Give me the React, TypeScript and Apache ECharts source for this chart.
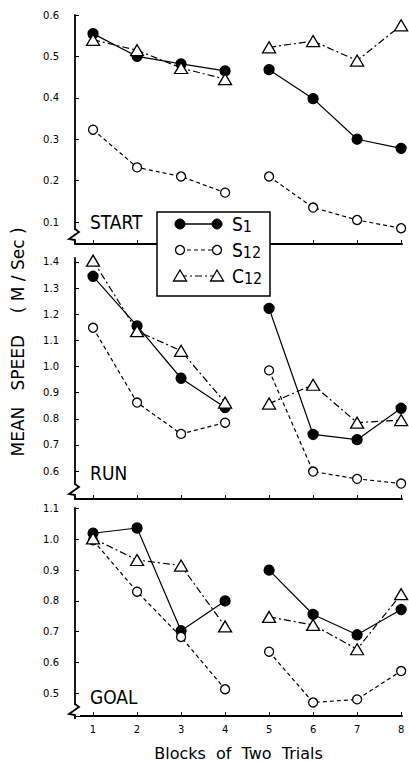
import React, { useEffect, useRef } from "react";
import * as echarts from "echarts";

const blocks = [1, 2, 3, 4, 5, 6, 7, 8];

const startS1 = [0.555, 0.5, 0.482, 0.465, 0.468, 0.398, 0.3, 0.278];
const startS12 = [0.323, 0.232, 0.21, 0.171, 0.21, 0.135, 0.105, 0.085];
const startC12 = [0.54, 0.515, 0.472, 0.445, 0.522, 0.537, 0.49, 0.575];

const runS1 = [1.345, 1.155, 0.955, 0.843, 1.222, 0.74, 0.72, 0.84];
const runS12 = [1.148, 0.862, 0.742, 0.785, 0.985, 0.598, 0.57, 0.552];
const runC12 = [1.405, 1.135, 1.06, 0.862, 0.858, 0.93, 0.785, 0.795];

const goalS1 = [1.02, 1.037, 0.703, 0.8, 0.9, 0.756, 0.69, 0.772];
const goalS12 = [0.997, 0.83, 0.683, 0.513, 0.635, 0.47, 0.48, 0.572];
const goalC12 = [1.003, 0.933, 0.915, 0.717, 0.748, 0.722, 0.643, 0.822];

const startTicks = [0.1, 0.2, 0.3, 0.4, 0.5, 0.6];
const runTicks = [0.6, 0.7, 0.8, 0.9, 1.0, 1.1, 1.2, 1.3, 1.4];
const goalTicks = [0.5, 0.6, 0.7, 0.8, 0.9, 1.0, 1.1];

const panelNames = ["START", "RUN", "GOAL"];
const xTitle = "Blocks  of  Two  Trials";
const yTitle = "MEAN   SPEED    ( M / Sec )";

const panels = [
  { name: "START", s1: startS1, s12: startS12, c12: startC12, ticks: startTicks, min: 0.047, max: 0.6, top: 15, height: 229 },
  { name: "RUN", s1: runS1, s12: runS12, c12: runC12, ticks: runTicks, min: 0.493, max: 1.415, top: 258, height: 241 },
  { name: "GOAL", s1: goalS1, s12: goalS12, c12: goalC12, ticks: goalTicks, min: 0.426, max: 1.102, top: 508, height: 211 },
];

const groups = [
  { key: "s1", lineType: "solid" as any, symbol: "circle", size: 10 as any, fill: "#000" },
  { key: "s12", lineType: [4, 3] as any, symbol: "circle", size: 9 as any, fill: "#fff" },
  { key: "c12", lineType: [7, 3, 2, 3] as any, symbol: "triangle", size: [13, 11] as any, fill: "#fff" },
];

const FONT = "'DejaVu Sans', 'Liberation Sans', sans-serif";
const CFONT = "'DejaVu Sans Condensed', 'Liberation Sans Narrow', 'DejaVu Sans', sans-serif";

export default function App() {
  const ref = useRef<HTMLDivElement>(null);
  useEffect(() => {
    if (!ref.current) return;
    const chart = echarts.init(ref.current, null, { renderer: "svg" });

    const grids: any[] = [];
    const xAxes: any[] = [];
    const yAxes: any[] = [];
    const series: any[] = [];
    const graphics: any[] = [];

    panels.forEach((p, pi) => {
      const isLast = pi === panels.length - 1;
      grids.push({ left: 75, right: 7, top: p.top, height: p.height, containLabel: false });
      xAxes.push({
        type: "value",
        gridIndex: pi,
        min: 0.59,
        max: 8.02,
        splitLine: { show: false },
        axisLine: { show: true, onZero: false, lineStyle: { color: "#000", width: 2 } },
        axisTick: { show: true, inside: true, length: 4, customValues: blocks, lineStyle: { color: "#000", width: 1 } },
        axisLabel: {
          show: isLast,
          customValues: blocks,
          color: "#000",
          fontFamily: FONT,
          fontSize: 10,
          margin: 8,
          formatter: (v: number) => String(v),
        },
        name: isLast ? xTitle : "",
        nameLocation: "middle",
        nameGap: 29,
        nameTextStyle: { color: "#000", fontFamily: FONT, fontSize: 16 },
      });
      yAxes.push({
        type: "value",
        gridIndex: pi,
        min: p.min,
        max: p.max,
        splitLine: { show: false },
        axisLine: { show: true, onZero: false, lineStyle: { color: "#000", width: 1.8 } },
        axisTick: { show: true, inside: true, length: 4, customValues: p.ticks, lineStyle: { color: "#000", width: 1 } },
        axisLabel: {
          show: true,
          customValues: p.ticks,
          color: "#000",
          fontFamily: FONT,
          fontSize: 10,
          margin: 16,
          formatter: (v: number) => v.toFixed(1),
        },
      });

      groups.forEach((g) => {
        const vals = (p as any)[g.key] as number[];
        [[0, 4], [4, 8]].forEach(([a, b]) => {
          const data: number[][] = [];
          for (let i = a; i < b; i++) data.push([blocks[i], vals[i]]);
          series.push({
            type: "line",
            name: g.key,
            xAxisIndex: pi,
            yAxisIndex: pi,
            data,
            symbol: g.symbol,
            symbolSize: g.size,
            showSymbol: true,
            silent: true,
            itemStyle: { color: g.fill, borderColor: "#000", borderWidth: 1.3, opacity: 1 },
            lineStyle: { color: "#000", width: 1.2, type: g.lineType },
            emphasis: { disabled: true },
          });
        });
      });

      const b = p.top + p.height;
      graphics.push({
        type: "rect",
        shape: { x: 71, y: b - 14, width: 9, height: 11 },
        style: { fill: "#fff" },
        z: 100,
      });
      graphics.push({
        type: "polyline",
        shape: { points: [[75, b - 15], [79, b - 12], [69, b - 5], [75, b - 4], [75, b]] },
        style: { stroke: "#000", lineWidth: 1.8, fill: null },
        z: 101,
      });
      const labelY = [222, 473, 697][pi];
      graphics.push({
        type: "text",
        x: 90,
        y: labelY,
        style: {
          text: panelNames[pi],
          fill: "#000",
          font: `19px ${CFONT}`,
          textVerticalAlign: "middle",
          textAlign: "left",
        },
        z: 100,
      });
    });

    graphics.push({
      type: "text",
      x: 18,
      y: 342,
      rotation: Math.PI / 2,
      style: {
        text: yTitle,
        fill: "#000",
        font: `17px ${FONT}`,
        textAlign: "center",
        textVerticalAlign: "middle",
      },
      z: 100,
    });

    const lx0 = 180, lx1 = 217;
    const rows = [224, 250, 276];
    graphics.push({
      type: "rect",
      shape: { x: 157, y: 212, width: 113, height: 84 },
      style: { fill: "#fff", stroke: "#000", lineWidth: 1.5 },
      z: 110,
    });
    graphics.push({ type: "line", shape: { x1: lx0, y1: rows[0], x2: lx1, y2: rows[0] }, style: { stroke: "#000", lineWidth: 1.3 }, z: 111 });
    graphics.push({ type: "line", shape: { x1: lx0, y1: rows[1], x2: lx1, y2: rows[1] }, style: { stroke: "#000", lineWidth: 1.2, lineDash: [4, 3] }, z: 111 });
    graphics.push({ type: "line", shape: { x1: lx0, y1: rows[2], x2: lx1, y2: rows[2] }, style: { stroke: "#000", lineWidth: 1.2, lineDash: [7, 3, 2, 3] }, z: 111 });
    [lx0, lx1].forEach((cx) => {
      graphics.push({ type: "circle", shape: { cx, cy: rows[0], r: 5 }, style: { fill: "#000", stroke: "#000", lineWidth: 1 }, z: 112 });
      graphics.push({ type: "circle", shape: { cx, cy: rows[1], r: 4.5 }, style: { fill: "#fff", stroke: "#000", lineWidth: 1.3 }, z: 112 });
      graphics.push({
        type: "polygon",
        shape: { points: [[cx, rows[2] - 6], [cx + 6.5, rows[2] + 5], [cx - 6.5, rows[2] + 5]] },
        style: { fill: "#fff", stroke: "#000", lineWidth: 1.3 },
        z: 112,
      });
    });
    const legendTexts = [["S", "1"], ["S", "12"], ["C", "12"]];
    legendTexts.forEach(([a, n], i) => {
      graphics.push({
        type: "text",
        x: 232,
        y: rows[i],
        style: {
          text: `{a|${a}}{b|${n}}`,
          textVerticalAlign: "middle",
          rich: {
            a: { fontSize: 19, fontFamily: CFONT, fill: "#000" },
            b: { fontSize: 16, fontFamily: CFONT, fill: "#000", padding: [5, 0, 0, 0] },
          },
        },
        z: 112,
      });
    });

    chart.setOption({
      animation: false,
      backgroundColor: "#fff",
      grid: grids,
      xAxis: xAxes,
      yAxis: yAxes,
      series,
      graphic: graphics,
    });
    return () => chart.dispose();
  }, []);
  return <div ref={ref} style={{ position: "absolute", left: 0, top: 0, width: 409, height: 762 }} />;
}
